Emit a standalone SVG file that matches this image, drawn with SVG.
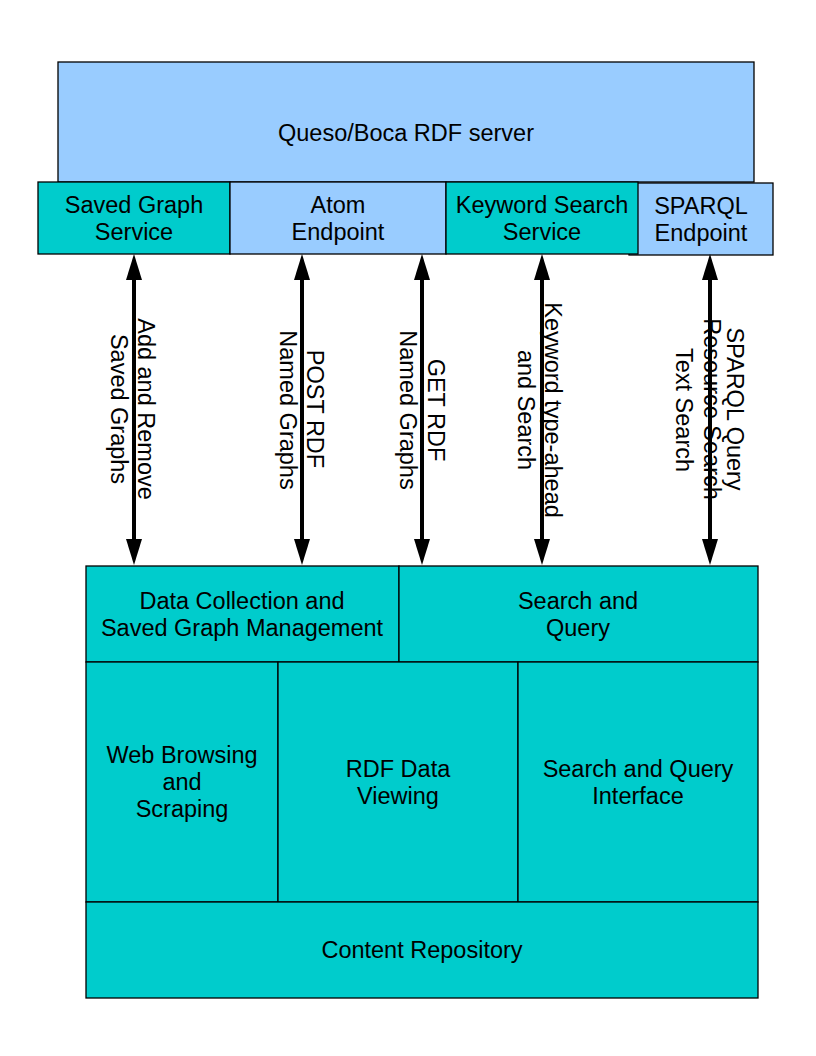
<svg xmlns="http://www.w3.org/2000/svg" width="816" height="1056" viewBox="0 0 816 1056">
<style>
.teal{fill:#00CCCC;stroke:#000;stroke-width:1.3}
.blue{fill:#99CCFF;stroke:#000;stroke-width:1.3}
text{font-family:"Liberation Sans",Arial,sans-serif;font-size:23.5px;fill:#000;text-anchor:middle}
.arr{stroke:#000;stroke-width:4;fill:none;marker-start:url(#ah);marker-end:url(#ah)}
</style>
<defs>
<marker id="ah" viewBox="0 0 26 16" refX="10" refY="8" markerWidth="26" markerHeight="16" markerUnits="userSpaceOnUse" orient="auto-start-reverse">
<path d="M0,0 L26,8 L0,16 z" fill="#000"/>
</marker>
</defs>
<rect width="816" height="1056" fill="#fff"/>
<g id="server">
<rect class="blue" x="58" y="62" width="696" height="120"/>
<text x="406" y="141">Queso/Boca RDF server</text>
</g>
<g id="saved-graph-service">
<rect class="teal" x="38" y="182" width="192" height="72"/>
<text x="134" y="213">Saved Graph</text>
<text x="134" y="240">Service</text>
</g>
<g id="atom-endpoint">
<rect class="blue" x="230" y="182" width="216" height="72"/>
<text x="338" y="213">Atom</text>
<text x="338" y="240">Endpoint</text>
</g>
<g id="sparql-endpoint">
<rect class="blue" x="629" y="183" width="144" height="72"/>
<text x="701" y="214">SPARQL</text>
<text x="701" y="241">Endpoint</text>
</g>
<g id="keyword-search-service">
<rect class="teal" x="446" y="182" width="192" height="72"/>
<text x="542" y="213">Keyword Search</text>
<text x="542" y="240">Service</text>
</g>
<g id="data-collection">
<rect class="teal" x="86" y="566" width="313" height="96"/>
<text x="242" y="609">Data Collection and</text>
<text x="242" y="636">Saved Graph Management</text>
</g>
<g id="search-and-query">
<rect class="teal" x="399" y="566" width="359" height="96"/>
<text x="578" y="609">Search and</text>
<text x="578" y="636">Query</text>
</g>
<g id="web-browsing">
<rect class="teal" x="86" y="662" width="192" height="240"/>
<text x="182" y="763">Web Browsing</text>
<text x="182" y="790">and</text>
<text x="182" y="817">Scraping</text>
</g>
<g id="rdf-data-viewing">
<rect class="teal" x="278" y="662" width="240" height="240"/>
<text x="398" y="777">RDF Data</text>
<text x="398" y="804">Viewing</text>
</g>
<g id="search-query-interface">
<rect class="teal" x="518" y="662" width="240" height="240"/>
<text x="638" y="777">Search and Query</text>
<text x="638" y="804">Interface</text>
</g>
<g id="content-repository">
<rect class="teal" x="86" y="902" width="672" height="96"/>
<text x="422" y="958">Content Repository</text>
</g>
<g id="connectors">
<text transform="translate(138,409) rotate(90)">Add and Remove</text>
<text transform="translate(111,409) rotate(90)">Saved Graphs</text>
<text transform="translate(307,409) rotate(90)">POST RDF</text>
<text transform="translate(280,410) rotate(90)">Named Graphs</text>
<text transform="translate(428,410) rotate(90)">GET RDF</text>
<text transform="translate(400,410) rotate(90)">Named Graphs</text>
<text transform="translate(545,410) rotate(90)">Keyword type-ahead</text>
<text transform="translate(518,410) rotate(90)">and Search</text>
<text transform="translate(727,409) rotate(90)">SPARQL Query</text>
<text transform="translate(704,409) rotate(90)">Resource Search</text>
<text transform="translate(676,410) rotate(90)">Text Search</text>
<line class="arr" x1="134" y1="270" x2="134" y2="549"/>
<line class="arr" x1="302" y1="270" x2="302" y2="549"/>
<line class="arr" x1="422" y1="270" x2="422" y2="549"/>
<line class="arr" x1="542" y1="270" x2="542" y2="549"/>
<line class="arr" x1="710" y1="270" x2="710" y2="549"/>
</g>
</svg>
